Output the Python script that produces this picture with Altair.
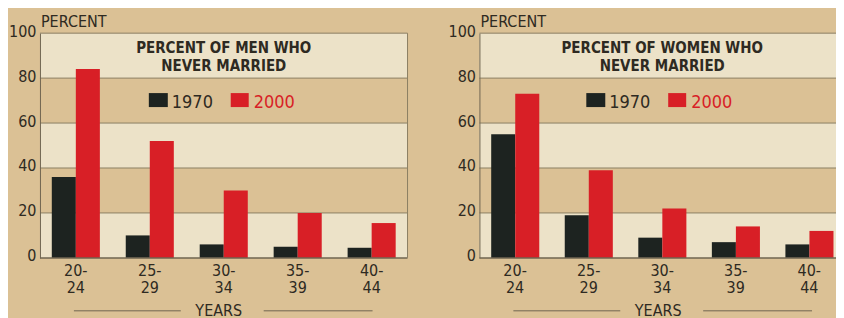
import altair as alt
import pandas as pd

# ---- data ----
age_groups = ["20-24", "25-29", "30-34", "35-39", "40-44"]
years = ["1970", "2000"]
men_1970 = [36, 10, 6, 5, 4.5]
men_2000 = [84, 52, 30, 20, 15.5]
women_1970 = [55, 19, 9, 7, 6]
women_2000 = [73, 39, 22, 14, 12]
y_ticks = [0, 20, 40, 60, 80, 100]
light_band_lo = [0, 40, 80]
light_band_hi = [20, 60, 100]

# ---- style ----
TAN = "#dbc195"
LIGHT = "#ece2c8"
GRID = "#8c7f63"
AXIS_C = "#6f6550"
DARK = "#2e2a22"
BLACK = "#1d2320"
RED = "#d81f26"
FONT = "Liberation Sans Narrow, DejaVu Sans Condensed, Liberation Sans, sans-serif"
H = 225
ONE = pd.DataFrame({"k": [0]})

YSCALE = alt.Scale(domain=[0, 100], nice=False)
YAXIS = alt.Axis(title=None, values=y_ticks, ticks=False, grid=False,
                 domain=True, domainColor=AXIS_C, domainWidth=1,
                 labelFont=FONT, labelFontSize=16, labelColor=DARK,
                 labelPadding=4, labelOffset=-2, zindex=1)


def label(text, x, y, size, color=DARK, weight="normal", align="center",
          baseline="alphabetic", line_height=None):
    kw = dict(text=text, fontSize=size, font=FONT, color=color, fontWeight=weight,
              align=align, baseline=baseline)
    if line_height:
        kw["lineHeight"] = line_height
    return alt.Chart(ONE).mark_text(**kw).encode(x=alt.value(x), y=alt.value(y))


def box(x1, x2, y1, y2, color):
    return alt.Chart(ONE).mark_rect(color=color).encode(
        x=alt.value(x1), x2=alt.value(x2), y=alt.value(y1), y2=alt.value(y2))


def hline(x1, x2, y, color=AXIS_C, w=1):
    return alt.Chart(ONE).mark_rule(color=color, strokeWidth=w).encode(
        x=alt.value(x1), x2=alt.value(x2), y=alt.value(y))


def panel(title_lines, v70, v00, width, right_border, dx):
    df = pd.DataFrame({
        "age": age_groups * 2,
        "year": [years[0]] * len(age_groups) + [years[1]] * len(age_groups),
        "value": v70 + v00,
    })
    bands = alt.Chart(pd.DataFrame({"lo": light_band_lo, "hi": light_band_hi})).mark_rect(
        color=LIGHT).encode(
        x=alt.value(0), x2=alt.value("width"),
        y=alt.Y("lo:Q", scale=YSCALE, axis=YAXIS), y2="hi:Q")
    grid = alt.Chart(pd.DataFrame({"v": y_ticks[1:]})).mark_rule(
        color=GRID, strokeWidth=1).encode(
        y=alt.Y("v:Q", scale=YSCALE, axis=YAXIS),
        x=alt.value(0), x2=alt.value("width"))
    bars = alt.Chart(df).mark_bar().encode(
        x=alt.X("age:N", sort=age_groups,
                scale=alt.Scale(paddingInner=0.35, paddingOuter=0.16),
                axis=alt.Axis(title=None, labelAngle=0, ticks=False, domain=False, grid=False,
                              labelExpr="[slice(datum.label, 0, 3), slice(datum.label, 3)]",
                              labelFont=FONT, labelFontSize=16, labelColor=DARK,
                              labelLineHeight=17, labelPadding=5)),
        xOffset=alt.XOffset("year:N", sort=years),
        y=alt.Y("value:Q", scale=YSCALE, axis=YAXIS),
        color=alt.Color("year:N", scale=alt.Scale(domain=years, range=[BLACK, RED]),
                        legend=None),
    )
    base_rule = alt.Chart(pd.DataFrame({"v": [0]})).mark_rule(
        color=AXIS_C, strokeWidth=1.5).encode(
        y=alt.Y("v:Q", scale=YSCALE, axis=YAXIS),
        x=alt.value(0), x2=alt.value("width"))
    layers = [bands, grid, bars, base_rule]
    if right_border:
        layers.append(alt.Chart(ONE).mark_rule(color=GRID, strokeWidth=1).encode(
            x=alt.value("width"), y=alt.value(0), y2=alt.value("height")))
    layers += [
        label(title_lines, width / 2, 20, 15, weight="bold", line_height=17.5),
        box(109 + dx, 128 + dx, 60, 74, BLACK),
        label("1970", 132 + dx, 74.5, 18, align="left"),
        box(191 + dx, 209 + dx, 60, 74, RED),
        label("2000", 214 + dx, 74.5, 18, color=RED, align="left"),
        label("PERCENT", 1, -6, 16, align="left"),
        label("YEARS", 179, H + 53, 16, baseline="middle"),
        hline(34, 141, H + 53),
        hline(224, 333, H + 53),
    ]
    return alt.layer(*layers).properties(width=width, height=H)


left = panel(["PERCENT OF MEN WHO", "NEVER MARRIED"], men_1970, men_2000, 368, True, 0)
right = panel(["PERCENT OF WOMEN WHO", "NEVER MARRIED"], women_1970, women_2000, 366, False, -2)

chart = alt.hconcat(left, right, spacing=39).properties(
    background=TAN,
    padding={"left": 0, "top": 6, "right": -10, "bottom": 0},
).configure_view(stroke=None)

chart.save("out.html", embed_options={"renderer": "svg", "actions": False})
